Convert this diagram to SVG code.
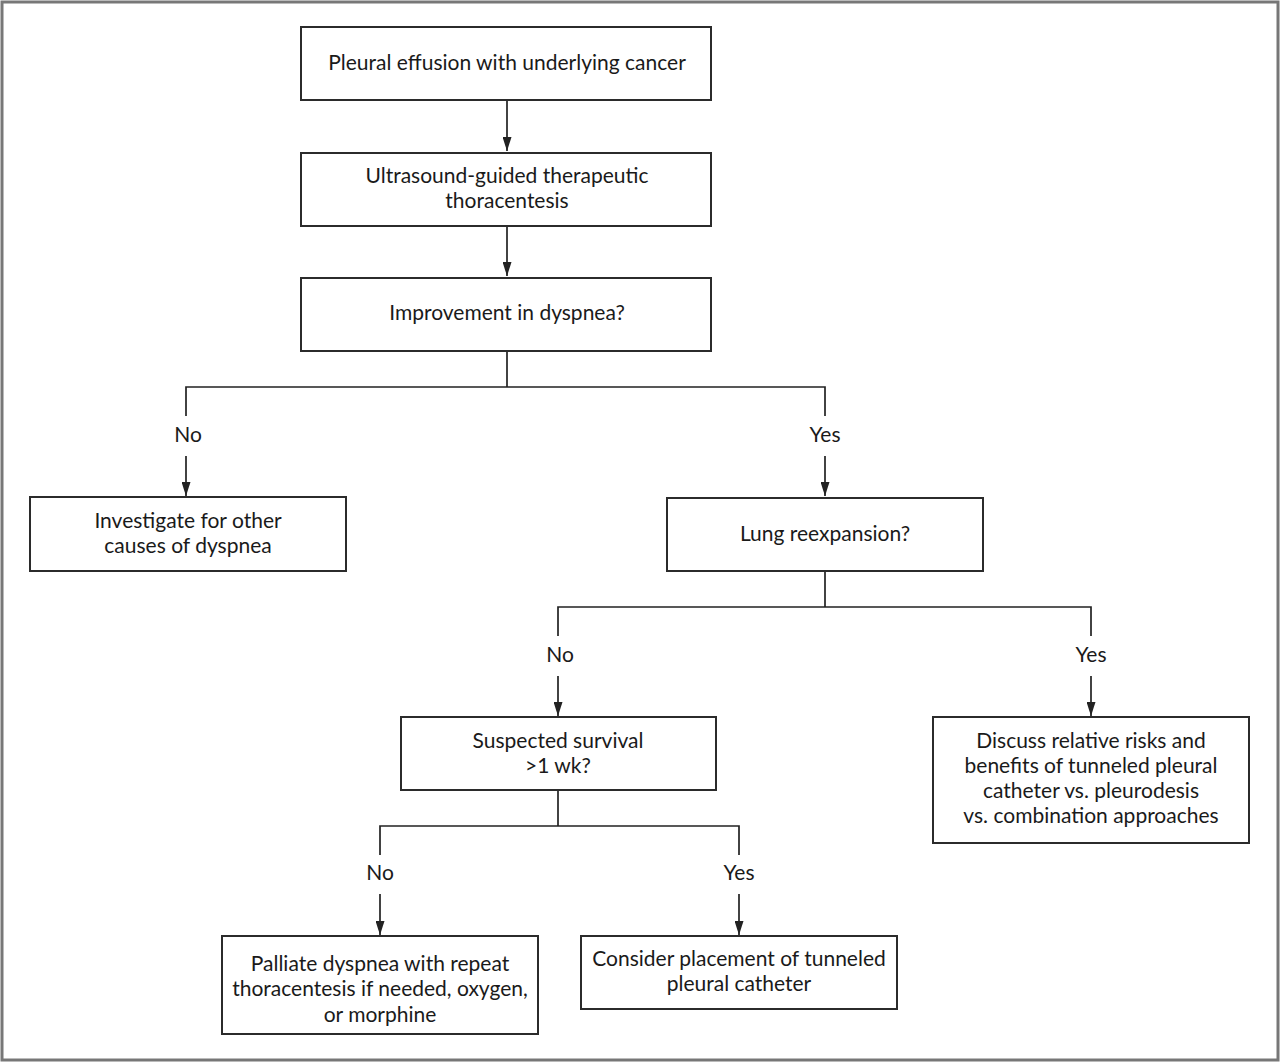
<svg xmlns="http://www.w3.org/2000/svg" width="1280" height="1063" viewBox="0 0 1280 1063">
<style>
.box{fill:#fff;stroke:#2b2b2b;stroke-width:2}
.ln{fill:none;stroke:#222;stroke-width:1.7}
text{font-family:Lato,"Liberation Sans",sans-serif;font-size:21px;fill:#1a1a1a;text-anchor:middle}
</style>
<defs>
<marker id="arr" markerUnits="userSpaceOnUse" markerWidth="14" markerHeight="9" refX="14" refY="4.5" orient="auto" viewBox="0 0 14 9">
<path d="M0,0 L14,4.5 L0,9 Z" fill="#222"/>
</marker>
</defs>
<rect x="2" y="2" width="1276" height="1058" fill="#fff" stroke="#777" stroke-width="3"/>
<g id="connectors">
<line class="ln" x1="507" y1="101" x2="507" y2="151" marker-end="url(#arr)"/>
<line class="ln" x1="507" y1="226" x2="507" y2="276" marker-end="url(#arr)"/>
<polyline class="ln" points="507,351 507,387"/>
<polyline class="ln" points="186,416 186,387 825,387 825,416"/>
<line class="ln" x1="186" y1="456" x2="186" y2="496" marker-end="url(#arr)"/>
<line class="ln" x1="825" y1="456" x2="825" y2="496" marker-end="url(#arr)"/>
<polyline class="ln" points="825,571 825,607"/>
<polyline class="ln" points="558,636 558,607 1091,607 1091,636"/>
<line class="ln" x1="558" y1="676" x2="558" y2="716" marker-end="url(#arr)"/>
<line class="ln" x1="1091" y1="676" x2="1091" y2="716" marker-end="url(#arr)"/>
<polyline class="ln" points="558,790 558,826"/>
<polyline class="ln" points="380,855 380,826 739,826 739,855"/>
<line class="ln" x1="380" y1="894" x2="380" y2="935" marker-end="url(#arr)"/>
<line class="ln" x1="739" y1="894" x2="739" y2="935" marker-end="url(#arr)"/>
<text x="188" y="442">No</text>
<text x="825" y="442">Yes</text>
<text x="560" y="662">No</text>
<text x="1091" y="662">Yes</text>
<text x="380" y="880">No</text>
<text x="739" y="880">Yes</text>
</g>
<g id="n1"><rect class="box" x="301" y="27" width="410" height="73"/><text x="507" y="70">Pleural effusion with underlying cancer</text></g>
<g id="n2"><rect class="box" x="301" y="153" width="410" height="73"/><text x="507" y="183">Ultrasound-guided therapeutic</text><text x="507" y="208">thoracentesis</text></g>
<g id="n3"><rect class="box" x="301" y="278" width="410" height="73"/><text x="507" y="320">Improvement in dyspnea?</text></g>
<g id="n4"><rect class="box" x="30" y="497" width="316" height="74"/><text x="188" y="528">Investigate for other</text><text x="188" y="553">causes of dyspnea</text></g>
<g id="n5"><rect class="box" x="667" y="498" width="316" height="73"/><text x="825" y="541">Lung reexpansion?</text></g>
<g id="n6"><rect class="box" x="401" y="717" width="315" height="73"/><text x="558" y="748">Suspected survival</text><text x="558" y="773">&gt;1 wk?</text></g>
<g id="n7"><rect class="box" x="933" y="717" width="316" height="126"/><text x="1091" y="748">Discuss relative risks and</text><text x="1091" y="773">benefits of tunneled pleural</text><text x="1091" y="798">catheter vs. pleurodesis</text><text x="1091" y="823">vs. combination approaches</text></g>
<g id="n8"><rect class="box" x="222" y="936" width="316" height="98"/><text x="380" y="971">Palliate dyspnea with repeat</text><text x="380" y="996">thoracentesis if needed, oxygen,</text><text x="380" y="1022">or morphine</text></g>
<g id="n9"><rect class="box" x="581" y="936" width="316" height="73"/><text x="739" y="966">Consider placement of tunneled</text><text x="739" y="991">pleural catheter</text></g>
</svg>
